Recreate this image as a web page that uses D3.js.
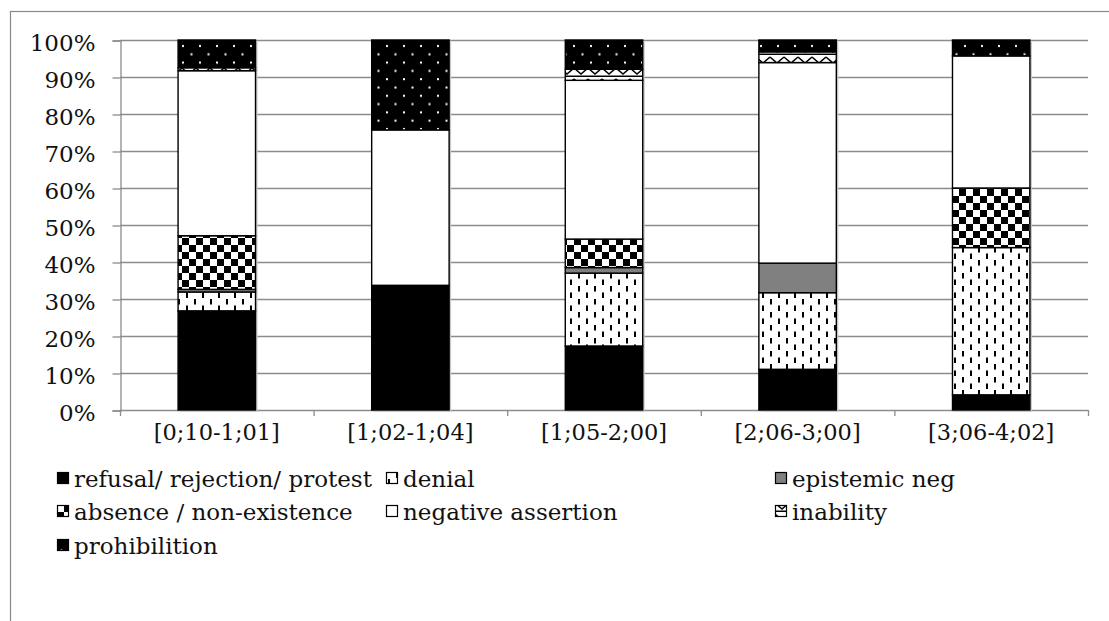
<!DOCTYPE html>
<html>
<head>
<meta charset="utf-8">
<script src="https://cdn.jsdelivr.net/npm/d3@7/dist/d3.min.js"></script>
<style>
  body { margin: 0; background: #fff; }
  text { font-family: "DejaVu Serif", serif; fill: #111; }
</style>
</head>
<body>
<div id="chart"></div>
<script>
// Data (percent of each age period)
const categories = ["[0;10-1;01]", "[1;02-1;04]", "[1;05-2;00]", "[2;06-3;00]", "[3;06-4;02]"];
const seriesNames = ["refusal/ rejection/ protest", "denial", "epistemic neg",
    "absence / non-existence", "negative assertion", "inability", "prohibilition"];
const refusal     = [26.8, 33.7, 17.3, 11.0, 4.1];
const denial      = [5.1, 0, 19.7, 20.7, 39.8];
const epistemic   = [0.7, 0, 1.5, 8.0, 0];
const absence     = [14.5, 0, 7.7, 0, 16.1];
const negative    = [44.6, 42.0, 42.9, 54.2, 35.7];
const inability   = [0.8, 0, 3.0, 2.9, 0];
const prohibition = [7.5, 24.3, 7.9, 3.2, 4.3];
const yTicks = [0, 10, 20, 30, 40, 50, 60, 70, 80, 90, 100];

const seriesValues = [refusal, denial, epistemic, absence, negative, inability, prohibition];
const fills = ["#000", "url(#p-denial)", "#808080", "url(#p-check)", "#fff", "url(#p-zig)", "url(#p-dots)"];

// Configuration
const width = 1109, height = 621;
const plot = { left: 120, right: 1088, top: 40, bottom: 410 };

const svg = d3.select("#chart").append("svg")
    .attr("width", width)
    .attr("height", height);

// Patterns
const defs = svg.append("defs");

const pDen = defs.append("pattern").attr("id", "p-denial")
    .attr("patternUnits", "userSpaceOnUse").attr("width", 16).attr("height", 13);
pDen.append("rect").attr("width", 16).attr("height", 13).attr("fill", "#fff");
pDen.append("rect").attr("x", 2).attr("y", 0).attr("width", 2).attr("height", 5.5).attr("fill", "#000");
pDen.append("rect").attr("x", 10).attr("y", 6.5).attr("width", 2).attr("height", 5.5).attr("fill", "#000");

const pChk = defs.append("pattern").attr("id", "p-check")
    .attr("patternUnits", "userSpaceOnUse").attr("width", 14).attr("height", 14);
pChk.append("rect").attr("width", 14).attr("height", 14).attr("fill", "#fff");
pChk.append("rect").attr("width", 7).attr("height", 7).attr("fill", "#000");
pChk.append("rect").attr("x", 7).attr("y", 7).attr("width", 7).attr("height", 7).attr("fill", "#000");

const pZig = defs.append("pattern").attr("id", "p-zig")
    .attr("patternUnits", "userSpaceOnUse").attr("width", 14).attr("height", 11);
pZig.append("rect").attr("width", 14).attr("height", 11).attr("fill", "#fff");
pZig.append("path").attr("d", "M0,2 L7,8 L14,2").attr("fill", "none")
    .attr("stroke", "#000").attr("stroke-width", 1.6);
pZig.append("rect").attr("y", 9.5).attr("width", 14).attr("height", 1.5).attr("fill", "#000");

const pDot = defs.append("pattern").attr("id", "p-dots")
    .attr("patternUnits", "userSpaceOnUse").attr("width", 17).attr("height", 16.6);
pDot.append("rect").attr("width", 17).attr("height", 16.6).attr("fill", "#000");
pDot.append("rect").attr("x", 3.5).attr("y", 3.5).attr("width", 2).attr("height", 2).attr("fill", "#fff");
pDot.append("rect").attr("x", 12).attr("y", 11.8).attr("width", 2).attr("height", 2).attr("fill", "#fff");

// Outer frame
svg.append("rect")
    .attr("x", 10.5).attr("y", 11.5)
    .attr("width", 1200).attr("height", 800)
    .attr("fill", "#fff").attr("stroke", "#898989").attr("stroke-width", 1.2);

// Scales
const x = d3.scaleBand()
    .domain(categories)
    .range([plot.left, plot.right])
    .paddingInner(0.6)
    .paddingOuter(0.3);

const y = d3.scaleLinear()
    .domain([0, 100])
    .range([plot.bottom, plot.top]);

// Gridlines
svg.append("g")
    .selectAll("line")
    .data(yTicks)
    .join("line")
    .attr("x1", plot.left).attr("x2", plot.right)
    .attr("y1", d => y(d) + 0.5).attr("y2", d => y(d) + 0.5)
    .attr("stroke", "#8c8c8c").attr("stroke-width", 1.3);

// Y axis
const yAxis = svg.append("g")
    .attr("transform", `translate(${plot.left + 0.5},0.5)`)
    .call(d3.axisLeft(y).tickValues(yTicks).tickFormat(d => d + "%").tickSize(8).tickPadding(17));
yAxis.selectAll("line, path").attr("stroke", "#8c8c8c").attr("stroke-width", 1.3);
yAxis.selectAll("text").attr("font-size", 23).attr("dy", "0.45em")
    .style("font-family", "DejaVu Serif").attr("fill", "#111");

// X axis: boundary ticks
const step = x.step();
const bounds = d3.range(categories.length + 1).map(i => plot.left + i * step);
svg.append("g")
    .selectAll("line")
    .data(bounds)
    .join("line")
    .attr("x1", d => d + 0.5).attr("x2", d => d + 0.5)
    .attr("y1", plot.bottom).attr("y2", plot.bottom + 6)
    .attr("stroke", "#8c8c8c").attr("stroke-width", 1.3);

svg.append("g")
    .selectAll("text")
    .data(categories)
    .join("text")
    .attr("x", d => x(d) + x.bandwidth() / 2)
    .attr("y", 440)
    .attr("text-anchor", "middle")
    .attr("font-size", 22.5)
    .text(d => d);

// Stack
const rows = categories.map((c, i) => {
    const r = { cat: c };
    seriesNames.forEach((s, k) => r[s] = seriesValues[k][i]);
    return r;
});
const stacked = d3.stack().keys(seriesNames)(rows);

// Light shadow behind bars
svg.append("g")
    .selectAll("rect")
    .data(categories)
    .join("rect")
    .attr("x", d => x(d) + 2)
    .attr("y", y(100) + 2)
    .attr("width", x.bandwidth())
    .attr("height", y(0) - y(100))
    .attr("fill", "#c8c8c8");

const layers = svg.append("g")
    .selectAll("g")
    .data(stacked)
    .join("g")
    .attr("fill", (d, i) => fills[i]);

layers.selectAll("rect")
    .data(d => d.filter(p => p[1] - p[0] > 0))
    .join("rect")
    .attr("x", d => x(d.data.cat))
    .attr("y", d => y(d[1]))
    .attr("width", x.bandwidth())
    .attr("height", d => y(d[0]) - y(d[1]))
    .attr("stroke", "#000")
    .attr("stroke-width", 1.4);

// Legend
const legendCols = [57, 386, 775];
const legendRows = [479, 512, 546];
const legend = svg.append("g")
    .selectAll("g")
    .data(seriesNames)
    .join("g")
    .attr("transform", (d, i) => `translate(${legendCols[i % 3]},${legendRows[Math.floor(i / 3)]})`);

legend.append("rect")
    .attr("x", 0.5).attr("y", -6.5)
    .attr("width", 11).attr("height", 11)
    .attr("fill", (d, i) => fills[i])
    .attr("stroke", "#000").attr("stroke-width", 1.2);

legend.append("text")
    .attr("x", 17)
    .attr("y", 8)
    .attr("font-size", 23)
    .text(d => d);
</script>
</body>
</html>
